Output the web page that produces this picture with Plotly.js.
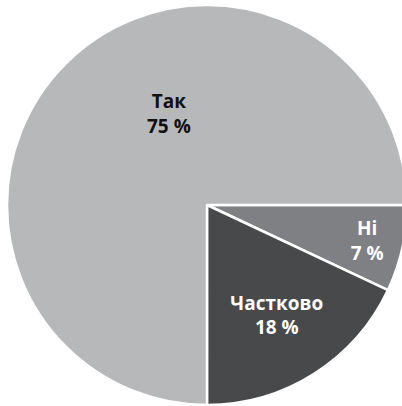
<!DOCTYPE html>
<html>
<head>
<meta charset="utf-8">
<script src="https://cdn.plot.ly/plotly-3.0.1.min.js"></script>
<style>
html,body{margin:0;padding:0;overflow:hidden;background:#fff;}
#chart{width:414px;height:406px;}
</style>
</head>
<body>
<div id="chart"></div>
<script>
const labels = ["Ні", "Частково", "Так"];
const values = [7, 18, 75];
const colors = ["#7f8083", "#48494b", "#b7b8ba"];
const textColors = ["#ffffff", "#ffffff", "#111111"];

const trace = {
  type: "pie",
  labels: labels,
  values: values,
  sort: false,
  direction: "clockwise",
  rotation: 90,
  marker: {colors: colors, line: {color: "#ffffff", width: 2.5}},
  texttemplate: "<b>%{label}</b><br><b>%{value} %</b>",
  textposition: ["inside", "inside", "none"],
  insidetextorientation: "horizontal",
  textfont: {family: "Open Sans, sans-serif", size: 19, color: textColors},
  hoverinfo: "none",
  showlegend: false
};

const layout = {
  width: 414,
  height: 406,
  margin: {l: 7, r: 7, t: 5, b: 1},
  paper_bgcolor: "#ffffff",
  showlegend: false,
  annotations: [{
    xref: "paper", yref: "paper",
    x: 0.405, y: 0.7275,
    xanchor: "center", yanchor: "middle",
    text: "<b>" + labels[2] + "</b><br><b>" + values[2] + " %</b>",
    showarrow: false,
    font: {family: "Open Sans, sans-serif", size: 19, color: textColors[2]}
  }]
};

Plotly.newPlot("chart", [trace], layout, {displayModeBar: false, staticPlot: true});
</script>
</body>
</html>
